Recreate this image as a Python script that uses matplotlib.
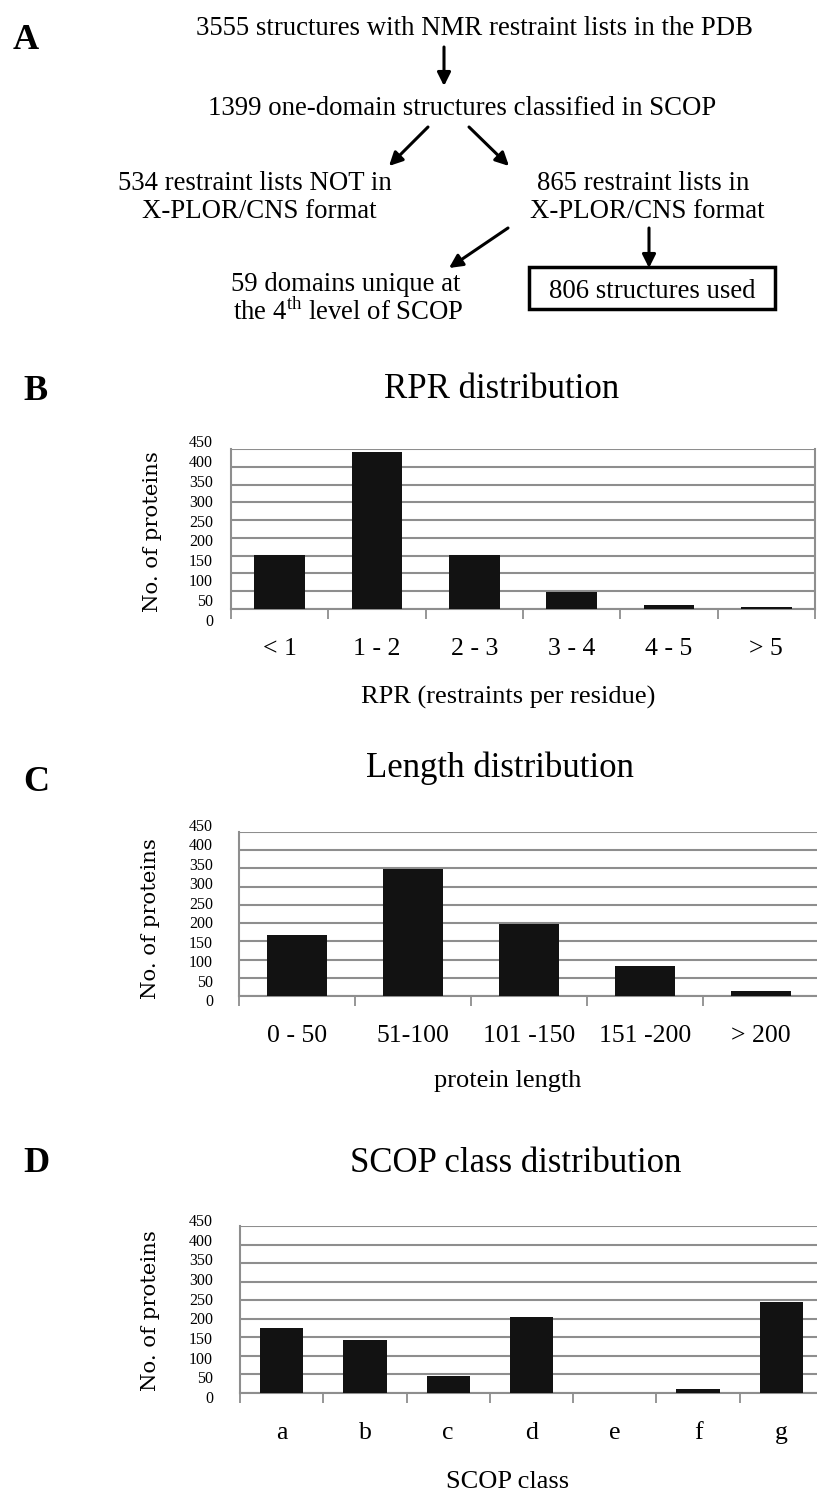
import matplotlib
matplotlib.use("Agg")
import matplotlib.pyplot as plt
from matplotlib.patches import Rectangle

plt.rcParams['font.family'] = ['Liberation Serif', 'DejaVu Serif']
plt.rcParams['mathtext.fontset'] = 'custom'
plt.rcParams['mathtext.rm'] = 'Liberation Serif'

# chart data
rpr_labels = ['< 1', '1 - 2', '2 - 3', '3 - 4', '4 - 5', '> 5']
rpr_counts = [153, 442, 153, 47, 10, 7]

length_labels = ['0 - 50', '51-100', '101 -150', '151 -200', '> 200']
length_counts = [168, 348, 198, 82, 15]

scop_labels = ['a', 'b', 'c', 'd', 'e', 'f', 'g']
scop_counts = [174, 144, 46, 206, 0, 12, 246]

y_ticks = list(range(0, 451, 50))

W, H = 817, 1493
GRID = '#8e8e8e'


def fx(x):
    return x / W


def fy(y):
    return 1 - y / H


fig = plt.figure(figsize=(W / 100, H / 100), dpi=100)

# ---- panel A: flow chart ----
fig.text(fx(13), fy(49), 'A', fontsize=26, fontweight='bold', ha='left', va='baseline')

flow = [
    ('3555 structures with NMR restraint lists in the PDB', 474, 35),
    ('1399 one-domain structures classified in SCOP', 462, 115),
    ('534 restraint lists NOT in', 255, 190),
    ('X-PLOR/CNS format', 259, 218),
    ('865 restraint lists in', 643, 190),
    ('X-PLOR/CNS format', 647, 218),
    ('59 domains unique at', 346, 291),
    ('the 4$^{\\mathrm{th}}$ level of SCOP', 348, 320),
    ('806 structures used', 652, 298),
]
for txt, x, y in flow:
    fig.text(fx(x), fy(y), txt, fontsize=19.3, ha='center', va='baseline')

arrows = [
    ((444, 47), (444, 86)),
    ((428, 127), (389, 166)),
    ((469, 127), (509, 166)),
    ((508, 228), (449, 268)),
    ((649, 228), (649, 268)),
]
for (x0, y0), (x1, y1) in arrows:
    fig.add_artist(plt.Annotation(
        '', xy=(fx(x1), fy(y1)), xytext=(fx(x0), fy(y0)),
        xycoords='figure fraction', textcoords='figure fraction',
        arrowprops=dict(arrowstyle='-|>', lw=2.2, color='black',
                        mutation_scale=20, shrinkA=0, shrinkB=0)))

fig.add_artist(Rectangle((fx(529), fy(309)), (775 - 529) / W, (309 - 267) / H,
                         transform=fig.transFigure, fill=False, lw=2.5,
                         edgecolor='black'))


# ---- bar panels ----
def bar_panel(letter, title, labels, counts, xlabel, box, title_pos,
              letter_y, ylab_pos, lab_shift, xlab_y, right_spine):
    left, top, right, bottom = box
    ax = fig.add_axes([fx(left), fy(bottom), (right - left) / W, (bottom - top) / H])
    n = len(counts)
    ax.bar(range(n), counts, width=0.52, color='#121212', zorder=3)
    ax.set_xlim(-0.5, n - 0.5)
    ax.set_ylim(0, 450)
    ax.set_yticks(y_ticks)
    ax.yaxis.grid(True, color=GRID, lw=1.5)
    ax.set_axisbelow(True)
    ax.tick_params(axis='y', left=False, labelleft=False)
    ax.set_xticks(range(n))
    ax.set_xticklabels(labels, fontsize=18.5)
    ax.set_xticks([i - 0.5 for i in range(n + 1)], minor=True)
    ax.tick_params(axis='x', which='major', length=0, pad=21)
    ax.tick_params(axis='x', which='minor', length=7, width=1.3,
                   color=GRID, direction='out')
    for side in ['left', 'bottom', 'right']:
        ax.spines[side].set_color(GRID)
        ax.spines[side].set_linewidth(1.5)
    ax.spines['top'].set_visible(False)
    ax.spines['right'].set_visible(right_spine)

    # value labels on the axis, spread a little wider than the grid
    px_per_unit = (bottom - top) / 450
    lo = -lab_shift[0] / px_per_unit
    hi = 450 + lab_shift[1] / px_per_unit
    xt = (213 - left) / (right - left)
    for v in y_ticks:
        ax.text(xt, lo + v / 450 * (hi - lo), str(v), fontsize=11.5,
                ha='right', va='center', transform=ax.get_yaxis_transform())

    ax.set_xlabel(xlabel, fontsize=19, va='top')
    ax.xaxis.set_label_coords((508 - left) / (right - left), xlab_y)

    fig.text(fx(ylab_pos[0]), fy(ylab_pos[1]), 'No. of proteins',
             family='DejaVu Serif', fontsize=15.3, rotation=90,
             ha='center', va='center')
    fig.text(fx(title_pos[0]), fy(title_pos[1]), title, fontsize=25,
             ha='center', va='baseline')
    fig.text(fx(23), fy(letter_y), letter, fontsize=26, fontweight='bold',
             ha='left', va='baseline')
    return ax


bar_panel('B', 'RPR distribution', rpr_labels, rpr_counts,
          'RPR (restraints per residue)', (231, 449, 815, 609),
          (502, 398), 400, (152, 532), (13, 6), -0.48, True)
bar_panel('C', 'Length distribution', length_labels, length_counts,
          'protein length', (239, 832, 819, 996),
          (500, 777), 791, (151, 919), (6, 5), -0.45, False)
bar_panel('D', 'SCOP class distribution', scop_labels, scop_counts,
          'SCOP class', (240, 1226, 823, 1393),
          (516, 1172), 1172, (151, 1311), (6, 4), -0.47, False)

fig.savefig('out.png', dpi=100)
